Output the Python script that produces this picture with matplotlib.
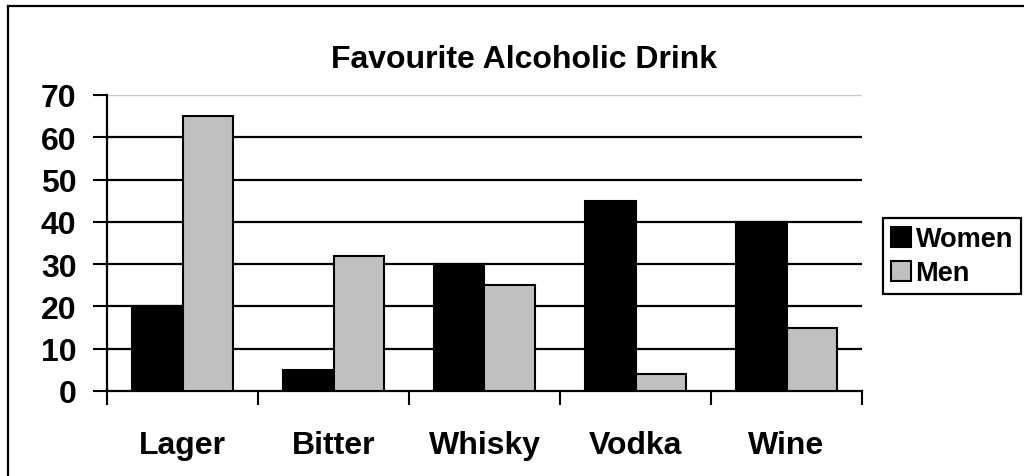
import matplotlib.pyplot as plt
from matplotlib.lines import Line2D
from matplotlib.patches import Patch
import numpy as np

plt.rcParams['font.family'] = ['Liberation Sans', 'DejaVu Sans']
plt.rcParams['font.weight'] = 'bold'

drinks = ['Lager', 'Bitter', 'Whisky', 'Vodka', 'Wine']
women = [20, 5, 30, 45, 40]
men = [65, 32, 25, 4, 15]
yticks = [0, 10, 20, 30, 40, 50, 60, 70]

fig = plt.figure(figsize=(10.24, 4.77), dpi=100)
ax = fig.add_axes([107 / 1024, 1 - 392 / 477, 755 / 1024, 296 / 477])

x = np.arange(len(drinks))
w = 1 / 3
ax.bar(x - w / 2, women, w, color='black', edgecolor='black', linewidth=1.5, zorder=3, label='Women')
ax.bar(x + w / 2, men, w, color='#c0c0c0', edgecolor='black', linewidth=1.5, zorder=3, label='Men')

# grid lines
for v in yticks[1:-1]:
    ax.axhline(v, color='black', lw=1.6, zorder=1)
ax.axhline(70, color='#c8c8c8', lw=1.0, zorder=1)

ax.set_xlim(-0.5, len(drinks) - 0.5)
ax.set_ylim(0, 70)
ax.set_yticks(yticks)
ax.tick_params(axis='y', length=10, width=1.5, pad=12, labelsize=23)
ax.set_xticks(np.arange(len(drinks) + 1) - 0.5)
ax.set_xticklabels([])
ax.tick_params(axis='x', which='major', length=10, width=1.5, direction='out')
ax.set_xticks(x, minor=True)
ax.set_xticklabels(drinks, minor=True)
ax.tick_params(axis='x', which='minor', length=0, pad=28, labelsize=23)

for s in ['top', 'right']:
    ax.spines[s].set_visible(False)
ax.spines['left'].set_linewidth(1.6)
ax.spines['bottom'].set_linewidth(1.6)

fig.text(524 / 1024, 1 - 60 / 477, 'Favourite Alcoholic Drink', ha='center', va='center',
         fontsize=23, fontweight='bold')

handles = [Patch(facecolor='black', edgecolor='black', lw=1.5),
           Patch(facecolor='#c0c0c0', edgecolor='black', lw=1.5)]
leg = fig.legend(handles, ['Women', 'Men'], loc='upper left',
                 bbox_to_anchor=(883 / 1024, 1 - 219 / 477), fontsize=19.5,
                 handlelength=0.75, handleheight=0.75, handletextpad=0.15,
                 labelspacing=0.3, borderpad=0.3, borderaxespad=0,
                 fancybox=False, framealpha=1)
leg.get_frame().set_edgecolor('black')
leg.get_frame().set_linewidth(1.6)

# outer chart border
fig.add_artist(Line2D([8 / 1024, 8 / 1024], [0, 1 - 7 / 477], color='black', lw=1.6))
fig.add_artist(Line2D([8 / 1024, 1], [1 - 7 / 477, 1 - 7 / 477], color='black', lw=1.6))

fig.savefig('out.png', dpi=100)
